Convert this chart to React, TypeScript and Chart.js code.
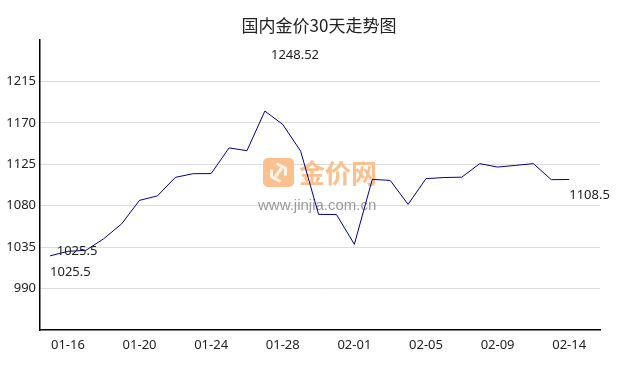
import React, { useEffect, useRef } from "react";
import { Chart, registerables } from "chart.js";

Chart.register(...registerables);

const title = "国内金价30天走势图";
const dates = [
  "01-15", "01-16", "01-17", "01-18", "01-19", "01-20", "01-21", "01-22", "01-23", "01-24",
  "01-25", "01-26", "01-27", "01-28", "01-29", "01-30", "01-31", "02-01", "02-02", "02-03",
  "02-04", "02-05", "02-06", "02-07", "02-08", "02-09", "02-10", "02-11", "02-12", "02-14",
];
const prices = [
  1025.5, 1030.5, 1031.5, 1044.1, 1060.3, 1085.8, 1090.7, 1110.8, 1114.8, 1114.9,
  1142.8, 1139.8, 1182.8, 1168.3, 1139.2, 1070.6, 1070.4, 1038.1, 1108.6, 1107.5,
  1081.5, 1109.4, 1110.6, 1111.0, 1125.7, 1122.0, 1123.8, 1125.7, 1108.3, 1108.5,
];
const xTickIndex = [1, 5, 9, 13, 17, 21, 25, 29];
const yMin = 945;
const yMax = 1260;
const yStep = 45;
const maxLabel = "1248.52";
const minLabel = "1025.5";
const lastLabel = "1108.5";
const watermarkName = "金价网";
const watermarkUrl = "www.jinjia.com.cn";

const overlayPlugin = {
  id: "overlay",
  beforeDatasetsDraw(chart: any) {
    const ctx = chart.ctx;
    const area = chart.chartArea;
    ctx.save();
    // watermark
    const ix = area.left + 223;
    const iy = area.top + 118;
    const w = 31;
    const h = 29;
    ctx.fillStyle = "#fcc08f";
    ctx.beginPath();
    ctx.roundRect(ix, iy, w, h, 5);
    ctx.fill();
    ctx.strokeStyle = "#fff5ea";
    ctx.lineWidth = 3;
    ctx.beginPath();
    const cx = ix + w / 2;
    const cy = iy + h / 2;
    ctx.moveTo(cx - 2, cy - 9);
    ctx.lineTo(cx + 7, cy - 4);
    ctx.lineTo(cx + 7, cy + 3);
    ctx.moveTo(cx + 2, cy + 9);
    ctx.lineTo(cx - 7, cy + 4);
    ctx.lineTo(cx - 7, cy - 3);
    ctx.moveTo(cx - 3, cy + 4);
    ctx.lineTo(cx + 3, cy - 4);
    ctx.stroke();
    ctx.fillStyle = "#fcc08f";
    ctx.font = "bold 26px 'Noto Sans CJK SC'";
    ctx.textAlign = "left";
    ctx.textBaseline = "middle";
    ctx.fillText(watermarkName, ix + 36, iy + 15);
    ctx.fillStyle = "#9a9a9a";
    ctx.font = "15px 'Liberation Sans', Arial";
    ctx.fillText(watermarkUrl, ix - 5, iy + 48);
    ctx.restore();
  },
  afterDatasetsDraw(chart: any) {
    const ctx = chart.ctx;
    const xs = chart.scales.x;
    const ys = chart.scales.y;
    const area = chart.chartArea;
    ctx.save();
    ctx.fillStyle = "#222";
    ctx.textBaseline = "middle";
    ctx.font = "17px 'Noto Sans CJK SC'";
    ctx.textAlign = "center";
    ctx.fillText(title, chart.width / 2, 25.5);
    ctx.font = "13px 'Noto Sans'";
    ctx.fillText(maxLabel, area.left + 255, area.top + 15.7);
    ctx.textAlign = "left";
    const x0 = xs.getPixelForValue(0);
    const y0 = ys.getPixelForValue(prices[0]);
    ctx.fillText(minLabel, x0 + 6.7, y0 - 5);
    ctx.fillText(minLabel, x0, y0 + 16);
    const n = prices.length - 1;
    ctx.fillText(lastLabel, xs.getPixelForValue(n), ys.getPixelForValue(prices[n]) + 16);
    ctx.restore();
  },
};

export default function App() {
  const ref = useRef<HTMLCanvasElement | null>(null);
  useEffect(() => {
    if (!ref.current) return;
    const chart = new Chart(ref.current, {
      type: "line",
      data: {
        datasets: [
          {
            data: prices.map((p, i) => ({ x: i, y: p })),
            borderColor: "#00008b",
            borderWidth: 1,
            pointRadius: 0,
            tension: 0,
            fill: false,
          },
        ],
      },
      options: {
        animation: false,
        responsive: true,
        maintainAspectRatio: false,
        layout: { padding: { top: 40, right: 38, left: 0, bottom: 0 } },
        plugins: { legend: { display: false }, title: { display: false }, tooltip: { enabled: false } },
        scales: {
          x: {
            type: "linear",
            min: -0.56,
            max: 30.72,
            afterBuildTicks: (s: any) => {
              s.ticks = xTickIndex.map((v) => ({ value: v }));
            },
            afterFit: (s: any) => {
              s.height = 40;
            },
            grid: { display: false, drawTicks: false },
            border: { display: true, color: "#000", width: 1.5 },
            ticks: {
              padding: 7,
              color: "#222",
              font: { family: "'Noto Sans'", size: 13 },
              maxRotation: 0,
              autoSkip: false,
              callback: (v: any) => dates[v as number] ?? "",
            },
          },
          y: {
            type: "linear",
            min: yMin,
            max: yMax,
            afterFit: (s: any) => {
              s.width = 40;
            },
            grid: { color: "#dcdcdc", lineWidth: 1, drawTicks: false },
            border: { display: true, color: "#000", width: 1.5 },
            ticks: {
              stepSize: yStep,
              padding: 4,
              color: "#222",
              font: { family: "'Noto Sans'", size: 13 },
              callback: (v: any) => (v === yMin || v === yMax ? null : String(v)),
            },
          },
        },
      },
      plugins: [overlayPlugin],
    });
    return () => chart.destroy();
  }, []);
  return (
    <div style={{ position: "fixed", left: 0, top: 0, width: 638, height: 370, background: "#fff" }}>
      <canvas ref={ref} />
    </div>
  );
}
